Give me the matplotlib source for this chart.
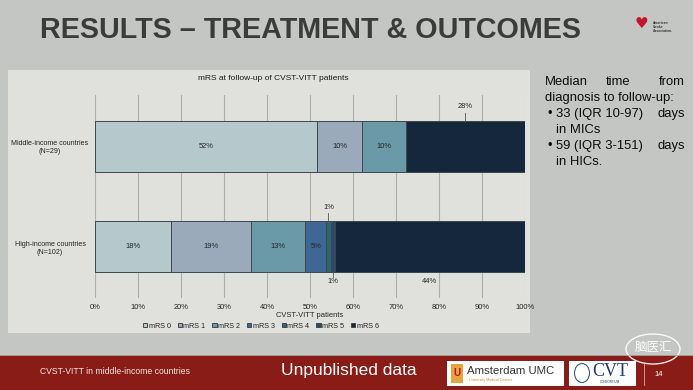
import matplotlib
matplotlib.use("Agg")
import matplotlib.pyplot as plt
from matplotlib.patches import Rectangle, Ellipse

plt.rcParams['font.family'] = ['Liberation Sans', 'DejaVu Sans']

# data (percent of patients)
groups = ["High-income countries\n(N=102)", "Middle-income countries\n(N=29)"]
mrs_names = ["mRS 0", "mRS 1", "mRS 2", "mRS 3", "mRS 4", "mRS 5", "mRS 6"]
high_income = [17.6, 18.6, 12.7, 4.9, 1.0, 1.0, 44.1]
middle_income = [51.7, 10.3, 10.3, 0.0, 0.0, 0.0, 27.6]
# where each value label sits
high_pos = ["in", "in", "in", "in", "above", "below", "below"]
middle_pos = ["in", "in", "in", None, None, None, "above"]
xticks = list(range(0, 101, 10))

colors = ['#b5c8cc', '#9baabb', '#6a9aa8', '#3e6796', '#2f6470', '#2e4a6c', '#15273a']

W, H = 693, 390
fig = plt.figure(figsize=(W / 100, H / 100), dpi=100)
fig.patch.set_facecolor('#c4c6c3')

# slide layer in pixel coordinates
bg = fig.add_axes([0, 0, 1, 1])
bg.set_xlim(0, W)
bg.set_ylim(H, 0)
bg.axis('off')

bg.text(40, 30, "RESULTS \u2013 TREATMENT & OUTCOMES", fontsize=20.7, fontweight='bold',
        color='#3b3b3b', ha='left', va='center')
bg.text(641, 24, "\u2665", fontsize=11, color='#c4122f', ha='center', va='center',
        family='DejaVu Sans')
bg.text(653, 27, "American\nStroke\nAssociation.", fontsize=2.4, color='#333333',
        ha='left', va='center', fontweight='bold', linespacing=1.0)

bg.add_patch(Rectangle((8, 70), 522, 263, facecolor='#e0e1dd', edgecolor='none'))
bg.text(273, 79, "mRS at follow-up of CVST-VITT patients", fontsize=6, color='#1a1a1a',
        ha='center', va='center')

# right-hand notes
fs = 9.4
tc = '#0d0d0d'
bg.text(545, 85, "Median", fontsize=fs, color=tc, ha='left', va='baseline')
bg.text(618, 85, "time", fontsize=fs, color=tc, ha='center', va='baseline')
bg.text(685, 85, "from", fontsize=fs, color=tc, ha='right', va='baseline')
bg.text(545, 101, "diagnosis to follow-up:", fontsize=fs, color=tc, ha='left', va='baseline')
bg.text(547, 117, "\u2022", fontsize=fs, color=tc, ha='left', va='baseline')
bg.text(556, 117, "33 (IQR 10-97)", fontsize=fs, color=tc, ha='left', va='baseline')
bg.text(685, 117, "days", fontsize=fs, color=tc, ha='right', va='baseline')
bg.text(556, 133, "in MICs", fontsize=fs, color=tc, ha='left', va='baseline')
bg.text(547, 149, "\u2022", fontsize=fs, color=tc, ha='left', va='baseline')
bg.text(556, 149, "59 (IQR 3-151)", fontsize=fs, color=tc, ha='left', va='baseline')
bg.text(685, 149, "days", fontsize=fs, color=tc, ha='right', va='baseline')
bg.text(556, 165, "in HICs.", fontsize=fs, color=tc, ha='left', va='baseline')

# footer band
bg.add_patch(Rectangle((0, 355), W, 35, facecolor='#8a1c17', edgecolor='none'))
bg.plot([0, W], [355, 355], color='#b0b2af', lw=0.6)
bg.text(40, 372, "CVST-VITT in middle-income countries", fontsize=6.2, color='#f0e6e6',
        ha='left', va='center')
bg.text(281, 371, "Unpublished data", fontsize=12.5, color='white', ha='left', va='center')
bg.add_patch(Rectangle((447, 361), 117, 25, facecolor='white', edgecolor='none'))
bg.add_patch(Rectangle((451, 364), 12, 19, facecolor='#e8a33c', edgecolor='none'))
bg.text(457, 373, "U", fontsize=7, color='#b5121b', ha='center', va='center', fontweight='bold')
bg.text(467, 371, "Amsterdam UMC", fontsize=8.2, color='#333333', ha='left', va='center')
bg.text(469, 380, "University Medical Centers", fontsize=2.6, color='#e08a2c', ha='left', va='center')
bg.add_patch(Rectangle((569, 361), 67, 25, facecolor='white', edgecolor='none'))
bg.add_patch(Ellipse((582, 373), 15, 19, facecolor='none', edgecolor='#3a5f8c', lw=0.8))
bg.text(610, 371, "CVT", fontsize=13, color='#1f3f78', ha='center', va='center',
        family='Liberation Serif')
bg.text(610, 382, "CONSORTIUM", fontsize=2.2, color='#1f3f78', ha='center', va='center')
bg.plot([644, 644], [362, 385], color='#d9a9a6', lw=0.6)
bg.text(659, 374, "14", fontsize=5.5, color='white', ha='center', va='center')

# watermark
bg.add_patch(Ellipse((653, 349), 54, 30, facecolor='none', edgecolor='white', lw=1.0, alpha=0.9))
bg.text(653, 347, "脑医汇", fontsize=9, color='white', ha='center', va='center',
        family=['Noto Sans CJK SC', 'DejaVu Sans'])

# chart axes
ax = fig.add_axes([95 / W, 1 - 298 / H, 430 / W, 203 / H])
ax.patch.set_alpha(0)
ax.set_zorder(2)

bar_h = 0.505
rows = [(0, high_income, high_pos), (1, middle_income, middle_pos)]
handles = []
for i, name in enumerate(mrs_names):
    vals = [high_income[i], middle_income[i]]
    lefts = [sum(high_income[:i]), sum(middle_income[:i])]
    b = ax.barh([0, 1], vals, left=lefts, height=bar_h, color=colors[i],
                edgecolor='#3d484c', linewidth=0.7, label=name, zorder=3)
    handles.append(b)

px = 1 / 101.0  # data units per pixel in y
for y, vals, pos in rows:
    start = 0
    for v, p in zip(vals, pos):
        mid = start + v / 2
        lab = f"{round(v)}%"
        if p == "in":
            ax.text(mid, y, lab, fontsize=5.4, color='#222222', ha='center', va='center', zorder=4)
        elif p == "above":
            top = y + bar_h / 2
            ax.plot([mid, mid], [top, top + 8 * px], color='#555555', lw=0.6, zorder=4)
            ax.text(mid, top + 14 * px, lab, fontsize=5.4, color='#222222', ha='center',
                    va='center', zorder=4)
        elif p == "below":
            bot = y - bar_h / 2
            if v < 3:
                ax.plot([mid, mid], [bot, bot - 5 * px], color='#555555', lw=0.6, zorder=4)
            ax.text(mid, bot - 9 * px, lab, fontsize=5.4, color='#222222', ha='center',
                    va='center', zorder=4)
        start += v

ax.set_xlim(0, 100)
ax.set_ylim(-0.505, 1.505)
ax.set_xticks(xticks)
ax.set_xticklabels([f"{t}%" for t in xticks], fontsize=5.4, color='#222222')
ax.set_yticks([0, 1])
ax.set_yticklabels(groups, fontsize=5.1, color='#222222', ha='center')
ax.tick_params(axis='y', length=0, pad=32.4)
ax.tick_params(axis='x', length=0, pad=4)
ax.xaxis.grid(True, color='#aeafab', lw=0.8, zorder=0)
ax.set_axisbelow(True)
for s in ax.spines.values():
    s.set_visible(False)
ax.set_xlabel("CVST-VITT patients", fontsize=5.4, color='#222222', labelpad=1)

fig.legend(handles, mrs_names, loc='center', bbox_to_anchor=(261 / W, 1 - 326 / H),
           ncol=7, frameon=False, fontsize=5.2, handlelength=0.6, handleheight=0.6,
           handletextpad=0.2, columnspacing=0.95, labelcolor='#222222')

fig.savefig("out.png", dpi=100, facecolor=fig.get_facecolor())
